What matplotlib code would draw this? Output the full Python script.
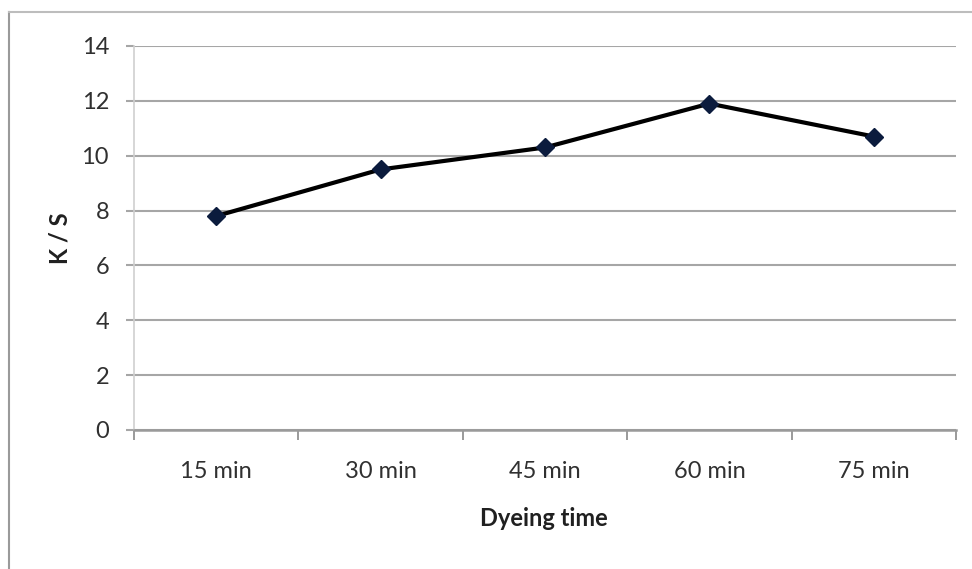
import matplotlib.pyplot as plt
from matplotlib.lines import Line2D

# dyeing time vs colour strength
times = ["15 min", "30 min", "45 min", "60 min", "75 min"]
ks = [7.8, 9.5, 10.3, 11.9, 10.7]
yticks = [0, 2, 4, 6, 8, 10, 12, 14]

plt.rcParams['font.family'] = ['Lato', 'DejaVu Sans']

fig = plt.figure(figsize=(9.72, 5.69), dpi=100)
ax = fig.add_axes([134 / 972, 1 - 430 / 569, (956 - 134) / 972, (430 - 46) / 569])

x = list(range(len(times)))
ax.plot(x, ks, color='black', linewidth=3.0, marker='D', markersize=9.5,
        markerfacecolor='#0b1b3d', markeredgecolor='#0b1b3d', zorder=3)

ax.set_xlim(-0.5, len(times) - 0.5)
ax.set_ylim(0, 14)
ax.set_yticks(yticks)
ax.set_xticks(x)
ax.set_xticklabels(times)
ax.set_xticks([i - 0.5 for i in range(len(times) + 1)], minor=True)

ax.grid(axis='y', color='#a6a6a6', linewidth=1.5)
ax.set_axisbelow(True)

for s in ['top', 'right']:
    ax.spines[s].set_visible(False)
ax.spines['left'].set_color('#cfcfcf')
ax.spines['left'].set_linewidth(1.2)
ax.spines['bottom'].set_color('#9a9a9a')
ax.spines['bottom'].set_linewidth(1.8)

ax.tick_params(axis='y', length=6, width=1.5, color='#a6a6a6', pad=12,
               labelsize=17, labelcolor='#303030')
ax.tick_params(axis='x', which='major', length=0, pad=22,
               labelsize=17, labelcolor='#303030')
ax.tick_params(axis='x', which='minor', length=7, width=1.4, color='#9a9a9a')

fig.text(544 / 972, 1 - 519 / 569, "Dyeing time", ha='center', va='center',
         fontsize=17, fontweight='bold', color='#202020')
fig.text(60 / 972, 1 - 238 / 569, "K / S", ha='center', va='center',
         rotation=90, fontsize=17, fontweight='bold', color='#202020')

# outer frame (only left and top edges show)
fig.add_artist(Line2D([9 / 972, 9 / 972], [0, 1 - 12 / 569], color='#9a9a9a', linewidth=1.5))
fig.add_artist(Line2D([9 / 972, 1], [1 - 12 / 569, 1 - 12 / 569], color='#bdbdbd', linewidth=1.5))

plt.savefig('out.png', dpi=100)
